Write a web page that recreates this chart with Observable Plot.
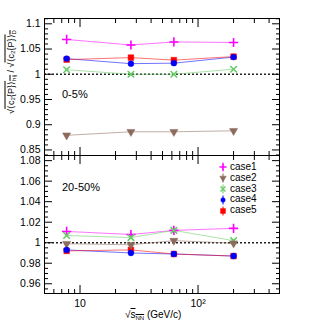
<!DOCTYPE html>
<html><head><meta charset="utf-8">
<script src="https://cdn.jsdelivr.net/npm/d3@7"></script>
<script src="https://cdn.jsdelivr.net/npm/@observablehq/plot@0.6"></script>
<style>
body{margin:0;background:#fff;font-family:"Liberation Sans",Arial,sans-serif;}
#wrap{position:relative;width:315px;height:332px;}
#top,#bot{position:absolute;left:0;}
#top{top:0}#bot{top:155px}
.lbl{position:absolute;font-size:11px;color:#000;white-space:nowrap;}
.ov{text-decoration:overline;}
sub{font-size:6px;vertical-align:-2px;}
#legend{position:absolute;left:217px;top:162px;font-size:10px;}
#legend div{height:10.8px;line-height:10.8px;display:flex;align-items:center;}
#legend svg{margin-right:1px;}
</style></head>
<body><div id="wrap"><div id="top"></div><div id="bot"></div>
<div class="lbl" style="left:62px;top:88px;">0-5%</div>
<div class="lbl" style="left:62px;top:181px;">20-50%</div>
<div class="lbl" style="left:125px;top:309px;font-size:10px;">√<span class="ov">s<sub>NN</sub></span> (GeV/c)</div>
<div class="lbl" style="left:11px;top:72px;font-size:9px;transform:translate(-50%,-50%) rotate(-90deg);">√<span class="ov">⟨c₂{P}⟩<sub>hij</sub></span> / √<span class="ov">⟨c₂{P}⟩<sub>D</sub></span></div>
<div id="legend"></div>
</div>
<script>
const energies = [7.7, 27, 62.4, 200];
const cases = ["case1","case2","case3","case4","case5"];
const colors = ["#ff00ff","#8c6b5c","#66cc66","#0000ff","#ff0000"];
const symbols = ["plus","triangle","times","circle","square"];
const top_case1 = [1.069, 1.058, 1.064, 1.063];
const top_case2 = [0.879, 0.886, 0.886, 0.888];
const top_case3 = [1.009, 1.000, 1.000, 1.010];
const top_case4 = [1.031, 1.021, 1.022, 1.034];
const top_case5 = [1.029, 1.033, 1.028, 1.035];
const bot_case1 = [1.011, 1.008, 1.012, 1.014];
const bot_case2 = [0.999, 0.998, 1.002, 0.9995];
const bot_case3 = [1.007, 1.005, 1.012, 1.002];
const bot_case4 = [0.993, 0.990, 0.989, 0.987];
const bot_case5 = [0.992, 0.993, 0.989, 0.987];
const topMajor = [0.85, 0.9, 0.95, 1, 1.05, 1.1];
const botMajor = [0.96, 0.98, 1, 1.02, 1.04, 1.06, 1.08];
const xMajor = [10, 100];
const xLabels = ["10", "10²"];

function rows(series){
  const out=[];
  series.forEach((vals,i)=>vals.forEach((v,j)=>out.push({c:cases[i],x:energies[j],y:v,col:colors[i],sym:symbols[i],rot:symbols[i]==="triangle"?180:0})));
  return out;
}
const xMinor=[];
for(const d of [1,10,100]) for(let k=1;k<10;k++){const v=k*d; if(v>=5&&v<=490&&!xMajor.includes(v)) xMinor.push(v);}

function panel(series, domain, majors, minorStep, height, mt, mb, showX, errH){
  const data=rows(series);
  const minors=d3.range(Math.ceil(domain[0]/minorStep-1e-9), Math.floor(domain[1]/minorStep+1e-9)+1).map(k=>+(k*minorStep).toFixed(4)).filter(v=>!majors.some(m=>Math.abs(m-v)<1e-6));
  const open=d=>d.sym==="plus"||d.sym==="times";
  const marks=[
    Plot.ruleY([1],{stroke:"#222",strokeWidth:1.4,strokeDasharray:"2,2"}),
    Plot.line(data,{x:"x",y:"y",z:"c",stroke:"col",strokeWidth:1,strokeOpacity:0.55}),
    Plot.ruleX(data,{x:"x",y1:d=>d.y-errH,y2:d=>d.y+errH,stroke:"col"}),
    Plot.dot(data,{x:"x",y:"y",symbol:"sym",fill:d=>open(d)?"none":d.col,stroke:"col",strokeWidth:d=>open(d)?1.6:0.5,r:d=>d.sym==="square"?2.6:d.sym==="circle"?2.2:d.sym==="triangle"?2.3:2.4,rotate:"rot"}),
    Plot.frame({stroke:"#000",strokeWidth:1}),
    Plot.axisY(majors,{anchor:"left",tickSize:-8,tickFormat:()=>"",label:null}),
    Plot.axisY(minors,{anchor:"left",tickSize:-4,tickFormat:()=>"",label:null}),
    Plot.axisY(majors,{anchor:"right",tickSize:-8,tickFormat:()=>"",label:null}),
    Plot.axisY(minors,{anchor:"right",tickSize:-4,tickFormat:()=>"",label:null}),
    Plot.axisY(majors,{anchor:"left",tickSize:0,tickPadding:4,tickFormat:d=>String(d),fontSize:10.5,fill:"#000",label:null}),
    Plot.axisX(xMajor,{anchor:"bottom",tickSize:-8,tickFormat:()=>"",label:null}),
    Plot.axisX(xMinor,{anchor:"bottom",tickSize:-4,tickFormat:()=>"",label:null}),
    Plot.axisX(xMajor,{anchor:"top",tickSize:-8,tickFormat:()=>"",label:null}),
    Plot.axisX(xMinor,{anchor:"top",tickSize:-4,tickFormat:()=>"",label:null})
  ];
  if(showX) marks.push(Plot.axisX(xMajor,{anchor:"bottom",tickSize:0,tickPadding:6,tickFormat:d=>xLabels[xMajor.indexOf(d)],fontSize:10.5,fill:"#000",label:null}));
  return Plot.plot({
    width:315,height,marginTop:mt,marginBottom:mb,marginLeft:44,marginRight:36,
    style:{fontFamily:"Liberation Sans, Arial, sans-serif",background:"white"},
    x:{type:"log",domain:[5,490],axis:null},
    y:{domain,axis:null},
    symbol:{type:"identity"},
    marks
  });
}
document.getElementById("top").append(panel([top_case1,top_case2,top_case3,top_case4,top_case5],[0.839,1.1105],topMajor,0.01,155,18,0,false,0.0012));
document.getElementById("bot").append(panel([bot_case1,bot_case2,bot_case3,bot_case4,bot_case5],[0.9505,1.085],botMajor,0.005,177,0,39,true,0.0007));

const leg=document.getElementById("legend");
cases.forEach((c,i)=>{
  const row=document.createElement("div");
  const s=symbols[i];
  const open=s==="plus"||s==="times";
  const sym=d3.symbol(s==="plus"?d3.symbolPlus:s==="times"?d3.symbolTimes:s==="triangle"?d3.symbolTriangle:s==="circle"?d3.symbolCircle:d3.symbolSquare, s==="square"?24:s==="circle"?16:18)();
  row.innerHTML=`<svg width="12" height="10" viewBox="-6 -5 12 10"><line x1="0" x2="0" y1="-4.5" y2="4.5" stroke="${colors[i]}"/><path d="${sym}" transform="rotate(${s==="triangle"?180:0})" fill="${open?"none":colors[i]}" stroke="${colors[i]}" stroke-width="${open?1.4:0.5}"/></svg>${c}`;
  leg.append(row);
});
</script></body></html>
